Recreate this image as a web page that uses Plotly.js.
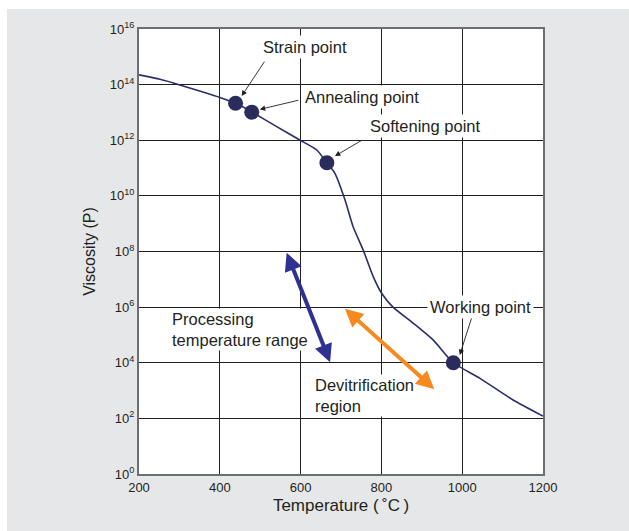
<!DOCTYPE html>
<html>
<head>
<meta charset="utf-8">
<script src="https://cdn.plot.ly/plotly-3.0.1.min.js"></script>
<style>
html,body{margin:0;padding:0;background:#ffffff;}
#chart{position:absolute;left:7px;top:9px;width:622px;height:522px;}
</style>
</head>
<body>
<div id="chart"></div>
<script>
// Viscosity curve: temperature (°C) and log10 viscosity (P)
var curveTemp = [200, 252, 301, 350, 400, 440, 479, 541, 598, 640, 665, 685, 710, 730, 755, 780, 801, 828, 879, 928, 978, 1044, 1126, 1200];
var curveLogVisc = [14.35, 14.19, 13.99, 13.77, 13.54, 13.33, 13.02, 12.49, 12.01, 11.65, 11.19, 10.81, 9.85, 8.89, 8.05, 7.09, 6.49, 6.01, 5.42, 4.82, 4.00, 3.44, 2.66, 2.08];

// Characteristic points
var pointNames = ["Strain point", "Annealing point", "Softening point", "Working point"];
var pointTemp = [439, 479, 665, 978];
var pointLogVisc = [13.33, 13.01, 11.19, 4.00];

// Label positions (temp, log viscosity) and arrow tails / heads
var labelTemp = [611, 753, 910, 1046];
var labelLogVisc = [15.35, 13.57, 12.52, 6.01];
var arrowTailTemp = [513, 598, 755, 1027];
var arrowTailLogVisc = [14.88, 13.45, 12.03, 5.78];
var arrowHeadTemp = [454, 499, 685, 994];
var arrowHeadLogVisc = [13.59, 13.11, 11.43, 4.28];

// Range arrows
var processingTemp = [564, 673];
var processingLogVisc = [8.01, 4.02];
var devitTemp = [706, 931];
var devitLogVisc = [5.99, 3.05];

// Axis ticks
var xTicks = [200, 400, 600, 800, 1000, 1200];
var yExponents = [0, 2, 4, 6, 8, 10, 12, 14, 16];

var toVal = function(e){ return Math.pow(10, e); };

var traces = [
  {
    x: curveTemp, y: curveLogVisc.map(toVal),
    type: 'scatter', mode: 'lines',
    line: {color: '#2b2d6b', width: 1.6, shape: 'spline', smoothing: 0.6},
    hoverinfo: 'skip', showlegend: false
  },
  {
    x: pointTemp, y: pointLogVisc.map(toVal), text: pointNames,
    type: 'scatter', mode: 'markers',
    marker: {color: '#2a2c5c', size: 15},
    showlegend: false
  }
];

var font = {family: 'Liberation Sans, Arial, sans-serif', color: '#231f20'};
var labelFont = {family: font.family, color: font.color, size: 16.5};
var annotations = [];
for (var i = 0; i < pointNames.length; i++) {
  annotations.push({
    x: arrowHeadTemp[i], y: arrowHeadLogVisc[i], xref: 'x', yref: 'y',
    ax: arrowTailTemp[i], ay: arrowTailLogVisc[i], axref: 'x', ayref: 'y',
    text: '', showarrow: true, arrowhead: 2, arrowsize: 1.2, arrowwidth: 0.9, arrowcolor: '#231f20'
  });
  annotations.push({
    x: labelTemp[i], y: labelLogVisc[i], xref: 'x', yref: 'y',
    text: pointNames[i], showarrow: false, bgcolor: '#ffffff', borderpad: 2,
    font: labelFont
  });
}
annotations.push({
  x: 276, y: 5.18, xref: 'x', yref: 'y', xanchor: 'left', align: 'left',
  text: 'Processing<br>temperature range', showarrow: false, bgcolor: '#ffffff', borderpad: 1,
  font: labelFont
});
annotations.push({
  x: 630, y: 2.84, xref: 'x', yref: 'y', xanchor: 'left', align: 'left',
  text: 'Devitrification<br>region', showarrow: false, bgcolor: '#ffffff', borderpad: 1,
  font: labelFont
});
annotations.push({
  x: processingTemp[1], y: processingLogVisc[1], xref: 'x', yref: 'y',
  ax: processingTemp[0], ay: processingLogVisc[0], axref: 'x', ayref: 'y',
  text: '', showarrow: true, arrowhead: 2, startarrowhead: 2, arrowside: 'end+start',
  arrowsize: 0.9, startarrowsize: 0.9, arrowwidth: 4, arrowcolor: '#2e3192'
});
annotations.push({
  x: devitTemp[1], y: devitLogVisc[1], xref: 'x', yref: 'y',
  ax: devitTemp[0], ay: devitLogVisc[0], axref: 'x', ayref: 'y',
  text: '', showarrow: true, arrowhead: 2, startarrowhead: 2, arrowside: 'end+start',
  arrowsize: 0.9, startarrowsize: 0.9, arrowwidth: 4, arrowcolor: '#f7891f'
});

var layout = {
  width: 622, height: 522,
  margin: {l: 132, r: 86, t: 20, b: 57},
  paper_bgcolor: '#e6e7e8',
  plot_bgcolor: '#ffffff',
  font: font,
  showlegend: false,
  xaxis: {
    range: [200, 1200],
    tickvals: xTicks, ticktext: xTicks.map(String),
    showgrid: true, gridcolor: '#231f20', gridwidth: 1,
    showline: true, linecolor: '#6d6e71', linewidth: 2, mirror: true,
    zeroline: false, ticks: '',
    tickfont: {family: font.family, color: font.color, size: 13},
    title: {text: 'Temperature (\u2009˚C\u2009)', font: {family: font.family, color: font.color, size: 17}, standoff: 6}
  },
  yaxis: {
    type: 'log',
    range: [0, 16],
    tickvals: yExponents.map(toVal),
    ticktext: yExponents.map(function(e){ return '10<sup>' + e + '</sup>'; }),
    showgrid: true, gridcolor: '#231f20', gridwidth: 1,
    showline: true, linecolor: '#6d6e71', linewidth: 2, mirror: true,
    zeroline: false, ticks: '',
    tickfont: {family: font.family, color: font.color, size: 13},
    title: {text: 'Viscosity (P)', font: {family: font.family, color: font.color, size: 16}, standoff: 10}
  },
  annotations: annotations
};

Plotly.newPlot('chart', traces, layout, {displayModeBar: false, staticPlot: true});
</script>
</body>
</html>
